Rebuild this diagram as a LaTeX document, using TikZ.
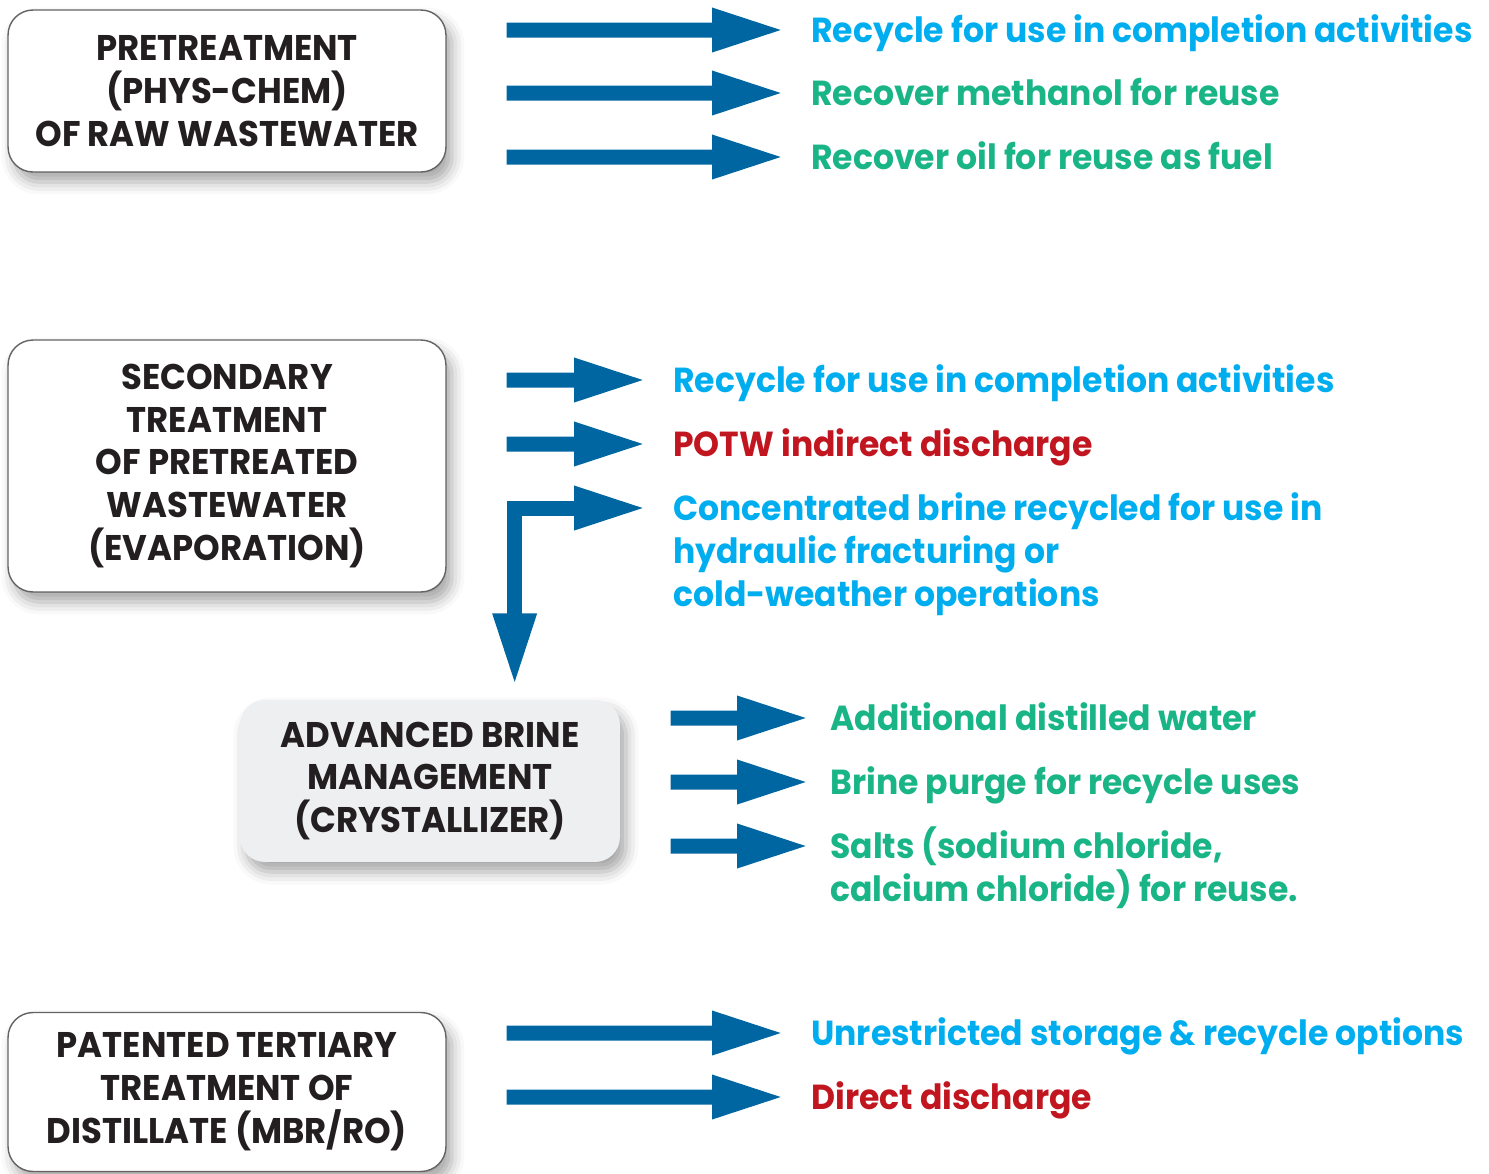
\documentclass[tikz,border=0pt]{standalone}
\usepackage{fontspec}
\newfontfamily\geofont{Poppins}[FakeStretch=0.95]
\usetikzlibrary{arrows.meta,shadows.blur}

\definecolor{arrowblue}{HTML}{0066A1}
\definecolor{cyantext}{HTML}{00AEEF}
\definecolor{greentext}{HTML}{1AB587}
\definecolor{redtext}{HTML}{C1161F}
\definecolor{inktext}{HTML}{231F20}
\definecolor{brinegrey}{HTML}{EEEFF1}

\begin{document}
\begin{tikzpicture}
[	x=0.02cm,y=-0.02cm,
	stage/.style={rectangle,rounded corners=0.5cm,draw=inktext!70,line width=0.8pt,fill=white,
		minimum width=8.76cm,align=center,text=inktext,
		font=\geofont\bfseries\fontsize{20.3}{24.4}\selectfont,
		blur shadow={shadow xshift=0.12cm,shadow yshift=-0.2cm,shadow blur radius=0.25cm,shadow opacity=35}},
	outcome/.style={anchor=base west,align=left,inner xsep=0.62cm,
		font=\geofont\bfseries\fontsize{19.8}{24.4}\selectfont},
	bigarrow/.style={draw=arrowblue,line width=0.3cm,shorten >=-0.1cm,-{Triangle[length=1.46cm,width=0.8cm]}},
	forkarrow/.style={draw=arrowblue,line width=0.3cm,line join=miter,shorten >=-0.14cm,shorten <=-0.1cm,
		{Triangle[length=1.46cm,width=0.8cm]}-{Triangle[length=1.46cm,width=0.8cm]}}
]
\useasboundingbox (0,0) rectangle (1489,1174);

% treatment stages
\node[stage,minimum height=3.24cm] (b1) at (227,91) {PRETREATMENT\\(PHYS-CHEM)\\OF RAW WASTEWATER};
\node[stage,minimum height=5.04cm] (b2) at (227,466) {SECONDARY\\TREATMENT\\OF PRETREATED\\WASTEWATER\\(EVAPORATION)};
\node[stage,draw=none,fill=brinegrey,minimum width=7.6cm,minimum height=3.24cm] (b3) at (430,781) {ADVANCED BRINE\\MANAGEMENT\\(CRYSTALLIZER)};
\node[stage,minimum height=3.18cm] (b4) at (227,1092) {PATENTED TERTIARY\\TREATMENT OF\\DISTILLATE (MBR/RO)};

% outcomes (base = last line)
\node[outcome,text=cyantext] (r11) at (780,42) {Recycle for use in completion activities};
\node[outcome,text=greentext] (r12) at (780,105) {Recover methanol for reuse};
\node[outcome,text=greentext] (r13) at (780,169) {Recover oil for reuse as fuel};

\node[outcome,text=cyantext] (r21) at (642,392) {Recycle for use in completion activities};
\node[outcome,text=redtext] (r22) at (642,456) {POTW indirect discharge};
\node[outcome,text=cyantext] (r23) at (642,606) {Concentrated brine recycled for use in\\hydraulic fracturing or\\cold-weather operations};

\node[outcome,text=greentext,inner xsep=0.5cm] (r31) at (805,730) {Additional distilled water};
\node[outcome,text=greentext,inner xsep=0.5cm] (r32) at (805,794) {Brine purge for recycle uses};
\node[outcome,text=greentext,inner xsep=0.5cm] (r33) at (805,901) {Salts (sodium chloride,\\calcium chloride) for reuse.};

\node[outcome,text=cyantext] (r41) at (780,1045) {Unrestricted storage \& recycle options};
\node[outcome,text=redtext] (r42) at (780,1109) {Direct discharge};

\coordinate (drop) at ([shift={(68,-20)}]b2.east |- b3.north);

% arrows
\draw[bigarrow]	(b1.east |- r11.base) ++(60,-12)	--	([yshift=0.24cm]r11.base west);
\draw[bigarrow]	(b1.east |- r12.base) ++(60,-12)	--	([yshift=0.24cm]r12.base west);
\draw[bigarrow]	(b1.east |- r13.base) ++(60,-12)	--	([yshift=0.24cm]r13.base west);

\draw[bigarrow]	(b2.east |- r21.base) ++(60,-12)	--	([yshift=0.24cm]r21.base west);
\draw[bigarrow]	(b2.east |- r22.base) ++(60,-12)	--	([yshift=0.24cm]r22.base west);
\draw[forkarrow]	([yshift=1.96cm]r23.base west)	-|	(drop);

\draw[bigarrow]	(b3.east |- r31.base) ++(50,-12)	--	([yshift=0.24cm]r31.base west);
\draw[bigarrow]	(b3.east |- r32.base) ++(50,-12)	--	([yshift=0.24cm]r32.base west);
\draw[bigarrow]	(b3.east |- r33.base) ++(50,-55)	--	([yshift=1.1cm]r33.base west);

\draw[bigarrow]	(b4.east |- r41.base) ++(60,-12)	--	([yshift=0.24cm]r41.base west);
\draw[bigarrow]	(b4.east |- r42.base) ++(60,-12)	--	([yshift=0.24cm]r42.base west);

\end{tikzpicture}
\end{document}
